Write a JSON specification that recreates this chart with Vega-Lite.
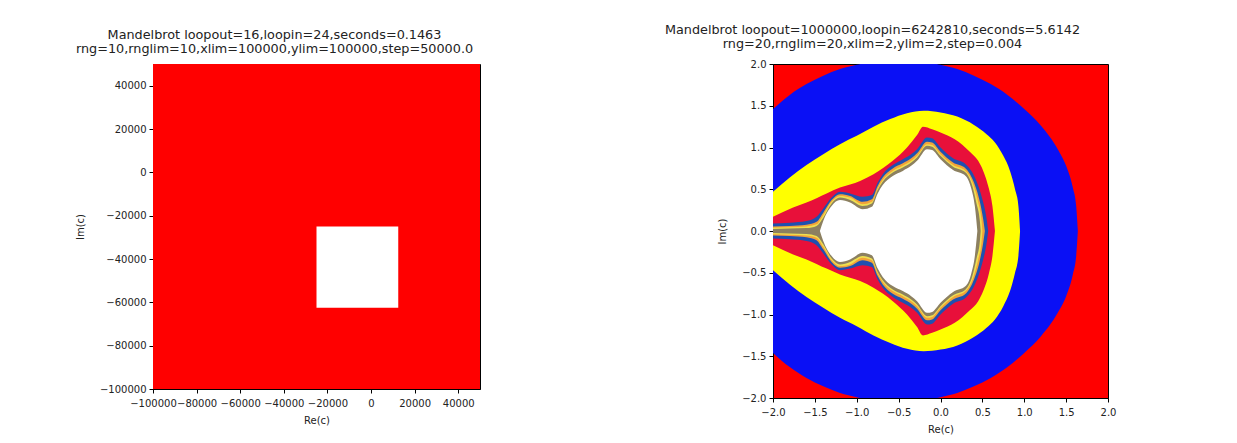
{
  "$schema": "https://vega.github.io/schema/vega-lite/v6.json",
  "background": "white",
  "padding": {"left": 74, "top": 23, "right": 0, "bottom": 0},
  "spacing": 183,
  "config": {
    "view": {"stroke": "#000000", "strokeWidth": 1},
    "font": "DejaVu Sans",
    "axis": {"grid": false, "domainColor": "#000000", "tickColor": "#000000", "labelColor": "#222222", "titleColor": "#222222", "labelFontSize": 10, "titleFontSize": 10, "titleFontWeight": "normal", "tickSize": 4, "labelPadding": 3, "labelFlush": false, "labelOverlap": false, "labelFont": "DejaVu Sans", "titleFont": "DejaVu Sans"},
    "axisX": {"titlePadding": 7, "labelPadding": 5},
    "title": {"fontSize": 12.8, "fontWeight": "normal", "font": "DejaVu Sans", "color": "#222222", "subtitleFontSize": 12.8, "subtitleColor": "#222222", "subtitleFont": "DejaVu Sans", "subtitlePadding": 1, "offset": 8, "anchor": "middle", "frame": "group"}
  },
  "hconcat": [
    {
      "width": 327,
      "height": 325,
      "title": {"text": "Mandelbrot loopout=16,loopin=24,seconds=0.1463", "subtitle": "rng=10,rnglim=10,xlim=100000,ylim=100000,step=50000.0", "dx": -42},
      "data": {"values": [
        {"x0": -100000, "x1": 50000, "y0": -100000, "y1": 50000, "v": "escaped"},
        {"x0": -25000, "x1": 12500, "y0": -62500, "y1": -25000, "v": "inside"}
      ]},
      "mark": {"type": "rect"},
      "encoding": {
        "x": {"field": "x0", "type": "quantitative", "scale": {"domain": [-100000, 50000], "nice": false, "zero": false}, "axis": {"title": "Re(c)", "values": [-100000, -80000, -60000, -40000, -20000, 0, 20000, 40000], "format": "d"}},
        "x2": {"field": "x1"},
        "y": {"field": "y0", "type": "quantitative", "scale": {"domain": [-100000, 50000], "nice": false, "zero": false}, "axis": {"title": "Im(c)", "values": [-100000, -80000, -60000, -40000, -20000, 0, 20000, 40000], "format": "d", "titlePadding": 14}},
        "y2": {"field": "y1"},
        "color": {"field": "v", "type": "nominal", "scale": {"domain": ["escaped", "inside"], "range": ["#ff0000", "#ffffff"]}, "legend": null}
      }
    },
    {
      "width": 335,
      "height": 334,
      "view": {"fill": "#ff0000", "stroke": "#000000"},
      "title": {"text": "Mandelbrot loopout=1000000,loopin=6242810,seconds=5.6142", "subtitle": "rng=20,rnglim=20,xlim=2,ylim=2,step=0.004", "dx": -68},
      "data": {"values": [
        {"b":"B1","x":-2,"hi":1.46,"lo":-1.46},{"b":"B1","x":-1.8,"hi":1.63,"lo":-1.63},{"b":"B1","x":-1.6,"hi":1.76,"lo":-1.76},{"b":"B1","x":-1.4,"hi":1.86,"lo":-1.86},{"b":"B1","x":-1.2,"hi":1.94,"lo":-1.94},{"b":"B1","x":-1.0,"hi":1.99,"lo":-1.99},{"b":"B1","x":-0.8,"hi":2.03,"lo":-2.03},{"b":"B1","x":-0.5,"hi":2.05,"lo":-2.05},{"b":"B1","x":-0.2,"hi":2.03,"lo":-2.03},{"b":"B1","x":0,"hi":1.99,"lo":-1.99},{"b":"B1","x":0.2,"hi":1.94,"lo":-1.94},{"b":"B1","x":0.4,"hi":1.86,"lo":-1.86},{"b":"B1","x":0.6,"hi":1.76,"lo":-1.76},{"b":"B1","x":0.8,"hi":1.63,"lo":-1.63},{"b":"B1","x":1.0,"hi":1.46,"lo":-1.46},{"b":"B1","x":1.2,"hi":1.26,"lo":-1.26},{"b":"B1","x":1.4,"hi":0.98,"lo":-0.98},{"b":"B1","x":1.5,"hi":0.78,"lo":-0.78},{"b":"B1","x":1.58,"hi":0.52,"lo":-0.52},{"b":"B1","x":1.62,"hi":0.3,"lo":-0.3},{"b":"B1","x":1.64,"hi":0,"lo":0},
        {"b":"Y1","x":-2,"hi":0.47,"lo":-0.47},{"b":"Y1","x":-1.8,"hi":0.64,"lo":-0.64},{"b":"Y1","x":-1.6,"hi":0.79,"lo":-0.79},{"b":"Y1","x":-1.4,"hi":0.92,"lo":-0.92},{"b":"Y1","x":-1.2,"hi":1.04,"lo":-1.04},{"b":"Y1","x":-1.0,"hi":1.14,"lo":-1.14},{"b":"Y1","x":-0.8,"hi":1.25,"lo":-1.25},{"b":"Y1","x":-0.6,"hi":1.34,"lo":-1.34},{"b":"Y1","x":-0.4,"hi":1.41,"lo":-1.41},{"b":"Y1","x":-0.2,"hi":1.44,"lo":-1.44},{"b":"Y1","x":0,"hi":1.42,"lo":-1.42},{"b":"Y1","x":0.2,"hi":1.37,"lo":-1.37},{"b":"Y1","x":0.4,"hi":1.27,"lo":-1.27},{"b":"Y1","x":0.55,"hi":1.16,"lo":-1.16},{"b":"Y1","x":0.65,"hi":1.06,"lo":-1.06},{"b":"Y1","x":0.75,"hi":0.9,"lo":-0.9},{"b":"Y1","x":0.83,"hi":0.72,"lo":-0.72},{"b":"Y1","x":0.89,"hi":0.5,"lo":-0.5},{"b":"Y1","x":0.93,"hi":0.3,"lo":-0.3},{"b":"Y1","x":0.95,"hi":0,"lo":0},
        {"b":"R2","x":-2,"hi":0.17,"lo":-0.17},{"b":"R2","x":-1.76,"hi":0.28,"lo":-0.28},{"b":"R2","x":-1.6,"hi":0.34,"lo":-0.34},{"b":"R2","x":-1.36,"hi":0.45,"lo":-0.45},{"b":"R2","x":-1.2,"hi":0.52,"lo":-0.52},{"b":"R2","x":-0.96,"hi":0.6,"lo":-0.6},{"b":"R2","x":-0.8,"hi":0.68,"lo":-0.68},{"b":"R2","x":-0.57,"hi":0.84,"lo":-0.84},{"b":"R2","x":-0.4,"hi":1.0,"lo":-1.0},{"b":"R2","x":-0.28,"hi":1.15,"lo":-1.15},{"b":"R2","x":-0.21,"hi":1.25,"lo":-1.25},{"b":"R2","x":-0.1,"hi":1.22,"lo":-1.22},{"b":"R2","x":0,"hi":1.18,"lo":-1.18},{"b":"R2","x":0.17,"hi":1.1,"lo":-1.1},{"b":"R2","x":0.35,"hi":0.95,"lo":-0.95},{"b":"R2","x":0.45,"hi":0.84,"lo":-0.84},{"b":"R2","x":0.51,"hi":0.72,"lo":-0.72},{"b":"R2","x":0.58,"hi":0.5,"lo":-0.5},{"b":"R2","x":0.62,"hi":0.3,"lo":-0.3},{"b":"R2","x":0.65,"hi":0,"lo":0},
        {"b":"B2","x":-2,"hi":0.09,"lo":-0.09},{"b":"B2","x":-1.8,"hi":0.1,"lo":-0.1},{"b":"B2","x":-1.6,"hi":0.12,"lo":-0.12},{"b":"B2","x":-1.48,"hi":0.17,"lo":-0.17},{"b":"B2","x":-1.4,"hi":0.27,"lo":-0.27},{"b":"B2","x":-1.3,"hi":0.4,"lo":-0.4},{"b":"B2","x":-1.2,"hi":0.47,"lo":-0.47},{"b":"B2","x":-1.08,"hi":0.45,"lo":-0.45},{"b":"B2","x":-0.93,"hi":0.41,"lo":-0.41},{"b":"B2","x":-0.82,"hi":0.43,"lo":-0.43},{"b":"B2","x":-0.75,"hi":0.58,"lo":-0.58},{"b":"B2","x":-0.69,"hi":0.68,"lo":-0.68},{"b":"B2","x":-0.57,"hi":0.79,"lo":-0.79},{"b":"B2","x":-0.45,"hi":0.86,"lo":-0.86},{"b":"B2","x":-0.35,"hi":0.92,"lo":-0.92},{"b":"B2","x":-0.28,"hi":0.98,"lo":-0.98},{"b":"B2","x":-0.16,"hi":1.12,"lo":-1.12},{"b":"B2","x":-0.1,"hi":1.11,"lo":-1.11},{"b":"B2","x":0,"hi":1.0,"lo":-1.0},{"b":"B2","x":0.15,"hi":0.87,"lo":-0.87},{"b":"B2","x":0.3,"hi":0.8,"lo":-0.8},{"b":"B2","x":0.42,"hi":0.62,"lo":-0.62},{"b":"B2","x":0.5,"hi":0.38,"lo":-0.38},{"b":"B2","x":0.55,"hi":0.15,"lo":-0.15},{"b":"B2","x":0.57,"hi":0,"lo":0},
        {"b":"O2","x":-2,"hi":0.055,"lo":-0.055},{"b":"O2","x":-1.8,"hi":0.06,"lo":-0.06},{"b":"O2","x":-1.6,"hi":0.075,"lo":-0.075},{"b":"O2","x":-1.48,"hi":0.11,"lo":-0.11},{"b":"O2","x":-1.4,"hi":0.22,"lo":-0.22},{"b":"O2","x":-1.3,"hi":0.37,"lo":-0.37},{"b":"O2","x":-1.2,"hi":0.44,"lo":-0.44},{"b":"O2","x":-1.08,"hi":0.42,"lo":-0.42},{"b":"O2","x":-0.93,"hi":0.35,"lo":-0.35},{"b":"O2","x":-0.82,"hi":0.38,"lo":-0.38},{"b":"O2","x":-0.75,"hi":0.54,"lo":-0.54},{"b":"O2","x":-0.69,"hi":0.64,"lo":-0.64},{"b":"O2","x":-0.57,"hi":0.75,"lo":-0.75},{"b":"O2","x":-0.45,"hi":0.81,"lo":-0.81},{"b":"O2","x":-0.35,"hi":0.87,"lo":-0.87},{"b":"O2","x":-0.28,"hi":0.93,"lo":-0.93},{"b":"O2","x":-0.16,"hi":1.07,"lo":-1.07},{"b":"O2","x":-0.1,"hi":1.06,"lo":-1.06},{"b":"O2","x":0,"hi":0.95,"lo":-0.95},{"b":"O2","x":0.15,"hi":0.82,"lo":-0.82},{"b":"O2","x":0.3,"hi":0.75,"lo":-0.75},{"b":"O2","x":0.4,"hi":0.58,"lo":-0.58},{"b":"O2","x":0.47,"hi":0.35,"lo":-0.35},{"b":"O2","x":0.51,"hi":0.14,"lo":-0.14},{"b":"O2","x":0.53,"hi":0,"lo":0},
        {"b":"Y2","x":-2,"hi":0.04,"lo":-0.04},{"b":"Y2","x":-1.8,"hi":0.045,"lo":-0.045},{"b":"Y2","x":-1.6,"hi":0.055,"lo":-0.055},{"b":"Y2","x":-1.48,"hi":0.08,"lo":-0.08},{"b":"Y2","x":-1.4,"hi":0.19,"lo":-0.19},{"b":"Y2","x":-1.3,"hi":0.35,"lo":-0.35},{"b":"Y2","x":-1.2,"hi":0.42,"lo":-0.42},{"b":"Y2","x":-1.08,"hi":0.4,"lo":-0.4},{"b":"Y2","x":-0.93,"hi":0.32,"lo":-0.32},{"b":"Y2","x":-0.82,"hi":0.35,"lo":-0.35},{"b":"Y2","x":-0.75,"hi":0.51,"lo":-0.51},{"b":"Y2","x":-0.69,"hi":0.61,"lo":-0.61},{"b":"Y2","x":-0.57,"hi":0.72,"lo":-0.72},{"b":"Y2","x":-0.45,"hi":0.78,"lo":-0.78},{"b":"Y2","x":-0.35,"hi":0.84,"lo":-0.84},{"b":"Y2","x":-0.28,"hi":0.9,"lo":-0.9},{"b":"Y2","x":-0.16,"hi":1.04,"lo":-1.04},{"b":"Y2","x":-0.1,"hi":1.03,"lo":-1.03},{"b":"Y2","x":0,"hi":0.92,"lo":-0.92},{"b":"Y2","x":0.15,"hi":0.79,"lo":-0.79},{"b":"Y2","x":0.3,"hi":0.72,"lo":-0.72},{"b":"Y2","x":0.39,"hi":0.56,"lo":-0.56},{"b":"Y2","x":0.45,"hi":0.34,"lo":-0.34},{"b":"Y2","x":0.49,"hi":0.13,"lo":-0.13},{"b":"Y2","x":0.5,"hi":0,"lo":0},
        {"b":"F","x":-2,"hi":0.025,"lo":-0.025},{"b":"F","x":-1.8,"hi":0.03,"lo":-0.03},{"b":"F","x":-1.6,"hi":0.035,"lo":-0.035},{"b":"F","x":-1.48,"hi":0.06,"lo":-0.06},{"b":"F","x":-1.4,"hi":0.16,"lo":-0.16},{"b":"F","x":-1.3,"hi":0.33,"lo":-0.33},{"b":"F","x":-1.2,"hi":0.4,"lo":-0.4},{"b":"F","x":-1.08,"hi":0.37,"lo":-0.37},{"b":"F","x":-0.93,"hi":0.3,"lo":-0.3},{"b":"F","x":-0.82,"hi":0.33,"lo":-0.33},{"b":"F","x":-0.75,"hi":0.49,"lo":-0.49},{"b":"F","x":-0.69,"hi":0.59,"lo":-0.59},{"b":"F","x":-0.57,"hi":0.7,"lo":-0.7},{"b":"F","x":-0.45,"hi":0.76,"lo":-0.76},{"b":"F","x":-0.35,"hi":0.82,"lo":-0.82},{"b":"F","x":-0.28,"hi":0.88,"lo":-0.88},{"b":"F","x":-0.16,"hi":1.02,"lo":-1.02},{"b":"F","x":-0.1,"hi":1.01,"lo":-1.01},{"b":"F","x":0,"hi":0.9,"lo":-0.9},{"b":"F","x":0.15,"hi":0.77,"lo":-0.77},{"b":"F","x":0.3,"hi":0.7,"lo":-0.7},{"b":"F","x":0.38,"hi":0.54,"lo":-0.54},{"b":"F","x":0.43,"hi":0.33,"lo":-0.33},{"b":"F","x":0.47,"hi":0.12,"lo":-0.12},{"b":"F","x":0.48,"hi":0,"lo":0},
        {"b":"W","x":-1.44,"hi":0,"lo":0},{"b":"W","x":-1.4,"hi":0.12,"lo":-0.12},{"b":"W","x":-1.3,"hi":0.3,"lo":-0.3},{"b":"W","x":-1.2,"hi":0.37,"lo":-0.37},{"b":"W","x":-1.08,"hi":0.34,"lo":-0.34},{"b":"W","x":-0.93,"hi":0.26,"lo":-0.26},{"b":"W","x":-0.82,"hi":0.29,"lo":-0.29},{"b":"W","x":-0.75,"hi":0.45,"lo":-0.45},{"b":"W","x":-0.69,"hi":0.55,"lo":-0.55},{"b":"W","x":-0.57,"hi":0.66,"lo":-0.66},{"b":"W","x":-0.45,"hi":0.72,"lo":-0.72},{"b":"W","x":-0.35,"hi":0.78,"lo":-0.78},{"b":"W","x":-0.28,"hi":0.84,"lo":-0.84},{"b":"W","x":-0.16,"hi":0.98,"lo":-0.98},{"b":"W","x":-0.1,"hi":0.97,"lo":-0.97},{"b":"W","x":0,"hi":0.86,"lo":-0.86},{"b":"W","x":0.15,"hi":0.73,"lo":-0.73},{"b":"W","x":0.3,"hi":0.66,"lo":-0.66},{"b":"W","x":0.37,"hi":0.5,"lo":-0.5},{"b":"W","x":0.41,"hi":0.3,"lo":-0.3},{"b":"W","x":0.44,"hi":0,"lo":0}
      ]},
      "encoding": {
        "x": {"field": "x", "type": "quantitative", "scale": {"domain": [-2, 2], "nice": false, "zero": false}, "axis": {"title": "Re(c)", "values": [-2, -1.5, -1, -0.5, 0, 0.5, 1, 1.5, 2], "format": ".1f"}},
        "y": {"field": "hi", "type": "quantitative", "scale": {"domain": [-2, 2], "nice": false, "zero": false}, "axis": {"title": "Im(c)", "values": [-2, -1.5, -1, -0.5, 0, 0.5, 1, 1.5, 2], "format": ".1f", "titlePadding": 14}},
        "y2": {"field": "lo"}
      },
      "layer": [
        {"transform": [{"filter": "datum.b == 'B1'"}], "mark": {"type": "area", "color": "#0a10f5", "interpolate": "monotone", "clip": true}},
        {"transform": [{"filter": "datum.b == 'Y1'"}], "mark": {"type": "area", "color": "#ffff00", "interpolate": "monotone", "clip": true}},
        {"transform": [{"filter": "datum.b == 'R2'"}], "mark": {"type": "area", "color": "#e8103a", "interpolate": "monotone", "clip": true}},
        {"transform": [{"filter": "datum.b == 'B2'"}], "mark": {"type": "area", "color": "#1f50b0", "interpolate": "monotone", "clip": true}},
        {"transform": [{"filter": "datum.b == 'O2'"}], "mark": {"type": "area", "color": "#f2a23a", "interpolate": "monotone", "clip": true}},
        {"transform": [{"filter": "datum.b == 'Y2'"}], "mark": {"type": "area", "color": "#eee050", "interpolate": "monotone", "clip": true}},
        {"transform": [{"filter": "datum.b == 'F'"}], "mark": {"type": "area", "color": "#8c8060", "interpolate": "monotone", "clip": true}},
        {"transform": [{"filter": "datum.b == 'W'"}], "mark": {"type": "area", "color": "#ffffff", "interpolate": "monotone", "clip": true}}
      ]
    }
  ]
}
